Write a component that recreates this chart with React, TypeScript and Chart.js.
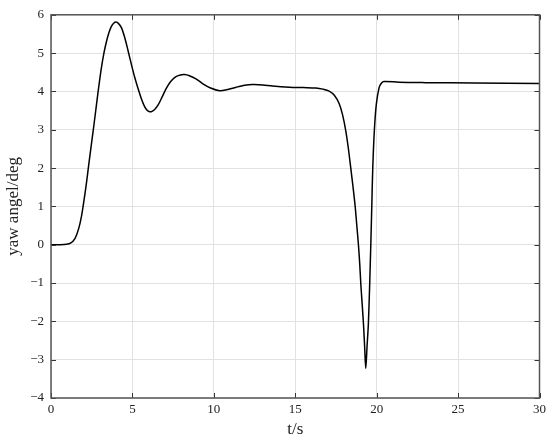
import React, { useEffect, useRef } from "react";
import { Chart, registerables } from "chart.js";

Chart.register(...registerables);

const timeSeconds = [
  0, 0.5, 0.96, 1.2, 1.47, 1.7, 1.88, 2.03, 2.18, 2.33,
  2.49, 2.65, 2.8, 2.95, 3.1, 3.25, 3.41, 3.56, 3.71, 3.85,
  3.98, 4.15, 4.33, 4.54, 4.74, 4.94, 5.14, 5.35, 5.55, 5.72,
  5.86, 6.0, 6.16, 6.35, 6.57, 6.82, 7.08, 7.35, 7.65, 7.95,
  8.2, 8.5, 8.9, 9.33, 9.8, 10.35, 10.85, 11.37, 11.9, 12.39,
  13.0, 13.6, 14.64, 15.5, 16.27, 16.7, 17.08, 17.4, 17.7, 17.9,
  18.1, 18.25, 18.41, 18.55, 18.68, 18.78, 18.88, 18.96, 19.03, 19.11,
  19.19, 19.26, 19.33, 19.41, 19.49, 19.57, 19.64, 19.7, 19.76, 19.86,
  19.98, 20.15, 20.3, 20.45, 21.37, 23, 26, 30,
];
const yawDeg = [
  0, 0, 0.01, 0.04, 0.16, 0.42, 0.76, 1.17, 1.62, 2.13,
  2.65, 3.17, 3.68, 4.18, 4.63, 5.0, 5.31, 5.54, 5.7, 5.78,
  5.81, 5.77, 5.66, 5.39, 5.05, 4.7, 4.37, 4.07, 3.81, 3.63,
  3.53, 3.48, 3.47, 3.52, 3.64, 3.85, 4.08, 4.26, 4.38, 4.43,
  4.44, 4.41, 4.33, 4.2, 4.09, 4.02, 4.05, 4.11, 4.16, 4.18,
  4.17, 4.14, 4.11, 4.1, 4.09, 4.06, 4.01, 3.9, 3.68, 3.4,
  2.98, 2.55, 2.0, 1.5, 1.0, 0.5, 0.0, -0.5, -1.05, -1.55,
  -2.07, -2.65, -3.23, -2.65, -2.07, -1.05, 0.0, 1.0, 2.0, 3.0,
  3.67, 4.1, 4.22, 4.26, 4.24, 4.23, 4.22, 4.21,
];
const xTicks = [0, 5, 10, 15, 20, 25, 30];
const yTicks = [-4, -3, -2, -1, 0, 1, 2, 3, 4, 5, 6];
const xTitle = "t/s";
const yTitle = "yaw angel/deg";

const FONT = "'Liberation Serif', 'Times New Roman', serif";

const framePlugin = {
  id: "frameTicks",
  afterDraw(chart: any) {
    const { ctx, chartArea: a, scales } = chart;
    const xs = scales.x;
    const ys = scales.y;
    ctx.save();
    ctx.strokeStyle = "#333";
    ctx.lineWidth = 1;
    const L = 5;
    ctx.beginPath();
    xTicks.forEach((v) => {
      const px = Math.round(xs.getPixelForValue(v)) + 0.5;
      ctx.moveTo(px, a.bottom);
      ctx.lineTo(px, a.bottom - L);
      ctx.moveTo(px, a.top);
      ctx.lineTo(px, a.top + L);
    });
    yTicks.forEach((v) => {
      const py = Math.round(ys.getPixelForValue(v)) + 0.5;
      ctx.moveTo(a.left, py);
      ctx.lineTo(a.left + L, py);
      ctx.moveTo(a.right, py);
      ctx.lineTo(a.right - L, py);
    });
    ctx.stroke();
    ctx.strokeStyle = "#555";
    ctx.lineWidth = 1.5;
    ctx.strokeRect(a.left, a.top, a.right - a.left, a.bottom - a.top);
    ctx.restore();
  },
};

export default function App() {
  const ref = useRef<HTMLCanvasElement | null>(null);

  useEffect(() => {
    document.body.style.margin = "0";
    if (!ref.current) return;
    const points = timeSeconds.map((t, i) => ({ x: t, y: yawDeg[i] }));
    const chart = new Chart(ref.current, {
      type: "line",
      data: {
        datasets: [
          {
            data: points,
            borderColor: "#000",
            borderWidth: 1.5,
            pointRadius: 0,
            tension: 0.3,
            fill: false,
          },
        ],
      },
      options: {
        animation: false,
        responsive: false,
        maintainAspectRatio: false,
        layout: { padding: { top: 10, right: 9, left: 0, bottom: 0 } },
        plugins: { legend: { display: false }, tooltip: { enabled: false } },
        scales: {
          x: {
            type: "linear",
            min: 0,
            max: 30,
            afterFit: (s: any) => {
              s.height = 42;
            },
            afterBuildTicks: (s: any) => {
              s.ticks = xTicks.map((v) => ({ value: v }));
            },
            ticks: {
              color: "#222",
              font: { family: FONT, size: 13 },
              padding: 4,
              maxRotation: 0,
            },
            grid: { color: "#e2e2e2", lineWidth: 1, drawTicks: false },
            border: { display: false },
            title: {
              display: true,
              text: xTitle,
              color: "#222",
              font: { family: FONT, size: 17 },
              padding: { top: 0, bottom: 0 },
            },
          },
          y: {
            type: "linear",
            min: -4,
            max: 6,
            afterFit: (s: any) => {
              s.width = 51;
            },
            afterBuildTicks: (s: any) => {
              s.ticks = yTicks.map((v) => ({ value: v }));
            },
            ticks: {
              color: "#222",
              font: { family: FONT, size: 13 },
              padding: 7,
              callback: (v: any) => String(v).replace("-", "\u2212"),
            },
            grid: { color: "#e2e2e2", lineWidth: 1, drawTicks: false },
            border: { display: false },
            title: {
              display: true,
              text: yTitle,
              color: "#222",
              font: { family: FONT, size: 17 },
              padding: { top: 3, bottom: 0 },
            },
          },
        },
      },
      plugins: [framePlugin],
    });
    return () => chart.destroy();
  }, []);

  return (
    <div style={{ width: 550, height: 440, background: "#fff" }}>
      <canvas ref={ref} width={550} height={440} style={{ display: "block" }} />
    </div>
  );
}
